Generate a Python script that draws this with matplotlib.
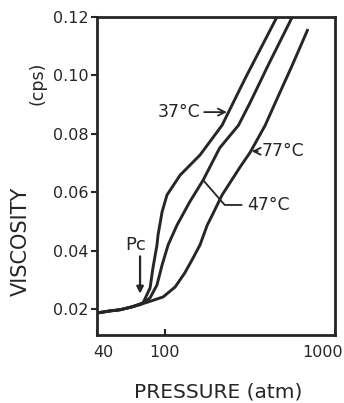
import matplotlib.pyplot as plt
import matplotlib.ticker as mticker
import matplotlib.transforms as mtransforms

# viscosity vs pressure
p_37 = [40, 47.6, 54.6, 64.2, 74.6, 82, 85.2, 90, 91.3, 96.4, 103, 123, 161, 217, 297, 456]
v_37 = [0.0186, 0.0193, 0.0197, 0.0207, 0.0221, 0.0272, 0.0340, 0.0419, 0.0453, 0.0532,
        0.0590, 0.0658, 0.0727, 0.0829, 0.0990, 0.1200]

p_47 = [40, 47.6, 54.6, 64.2, 71.6, 76.7, 82, 90, 96.4, 104.6, 118, 140, 168, 210, 271, 318, 405, 561]
v_47 = [0.0186, 0.0193, 0.0197, 0.0207, 0.0215, 0.0225, 0.0238, 0.0282, 0.0350, 0.0419,
        0.0487, 0.0566, 0.0641, 0.0751, 0.0829, 0.0908, 0.1035, 0.1200]

p_77 = [40, 47.6, 54.6, 64.2, 71.6, 80, 97.8, 115, 131, 146.5, 161, 177.6, 190, 217, 277, 318, 389, 447, 561, 688]
v_77 = [0.0186, 0.0193, 0.0197, 0.0207, 0.0215, 0.0224, 0.0241, 0.0275, 0.0323, 0.0374,
        0.0419, 0.0487, 0.0521, 0.0590, 0.0686, 0.0737, 0.0829, 0.0908, 0.1035, 0.1154]

x_ticks = [40, 100, 1000]
y_ticks = [0.02, 0.04, 0.06, 0.08, 0.10, 0.12]

ink = '#262626'

fig = plt.figure(figsize=(3.44, 4.03), dpi=100)
ax = fig.add_axes([0.282, 0.169, 0.692, 0.789])

for p, v in [(p_37, v_37), (p_47, v_47), (p_77, v_77)]:
    ax.plot(p, v, color=ink, lw=2.1, solid_joinstyle='round')

ax.set_xscale('log')
ax.set_xlim(40, 1000)
ax.set_ylim(0.0111, 0.12)
ax.xaxis.set_major_locator(mticker.FixedLocator(x_ticks))
ax.xaxis.set_minor_locator(mticker.NullLocator())
ax.xaxis.set_major_formatter(mticker.FixedFormatter([str(t) for t in x_ticks]))
ax.set_yticks(y_ticks)
ax.set_yticklabels(['%.2f' % t for t in y_ticks])
ax.tick_params(axis='x', direction='in', length=4, width=1.5, labelsize=11.5, pad=7, colors=ink)
ax.tick_params(axis='y', direction='out', length=4, width=1.5, labelsize=11.5, pad=2, colors=ink)
for s in ax.spines.values():
    s.set_linewidth(2)
    s.set_color(ink)

# nudge end tick labels like the original
xlabs = ax.get_xticklabels()
xlabs[0].set_transform(xlabs[0].get_transform() +
                       mtransforms.ScaledTranslation(0.06, 0, fig.dpi_scale_trans))
xlabs[-1].set_horizontalalignment('right')
xlabs[-1].set_transform(xlabs[-1].get_transform() +
                        mtransforms.ScaledTranslation(0.08, 0, fig.dpi_scale_trans))

# axis titles
fig.text(0.634, 0.027, 'PRESSURE (atm)', ha='center', va='center', fontsize=14.5, color=ink)
fig.text(0.061, 0.40, 'VISCOSITY', rotation=90, ha='center', va='center', fontsize=15, color=ink)
fig.text(0.108, 0.794, '(cps)', rotation=90, ha='center', va='center', fontsize=12.5, color=ink)

# annotations
ax.annotate('37°C', xy=(236, 0.0874), xytext=(161, 0.0874), ha='right', va='center',
            fontsize=12.5, color=ink,
            arrowprops=dict(arrowstyle='->', color=ink, lw=1.3, shrinkA=1, shrinkB=1))
ax.annotate('77°C', xy=(318, 0.0740), xytext=(372, 0.0740), ha='left', va='center',
            fontsize=12.5, color=ink,
            arrowprops=dict(arrowstyle='->', color=ink, lw=1.3, shrinkA=1, shrinkB=1))
ax.annotate('47°C', xy=(168, 0.0641), xytext=(305, 0.0556), ha='left', va='center',
            fontsize=12.5, color=ink,
            arrowprops=dict(arrowstyle='-', color=ink, lw=1.3, shrinkA=2, shrinkB=0,
                            connectionstyle='angle,angleA=0,angleB=-49,rad=0'))
ax.text(67.8, 0.0387, 'Pc', ha='center', va='bottom', fontsize=13, color=ink)
ax.annotate('', xy=(71.6, 0.0252), xytext=(71.6, 0.0380),
            arrowprops=dict(arrowstyle='-|>', color=ink, lw=1.6, shrinkA=0, shrinkB=0,
                            mutation_scale=10))

fig.savefig('out.png', dpi=100)
